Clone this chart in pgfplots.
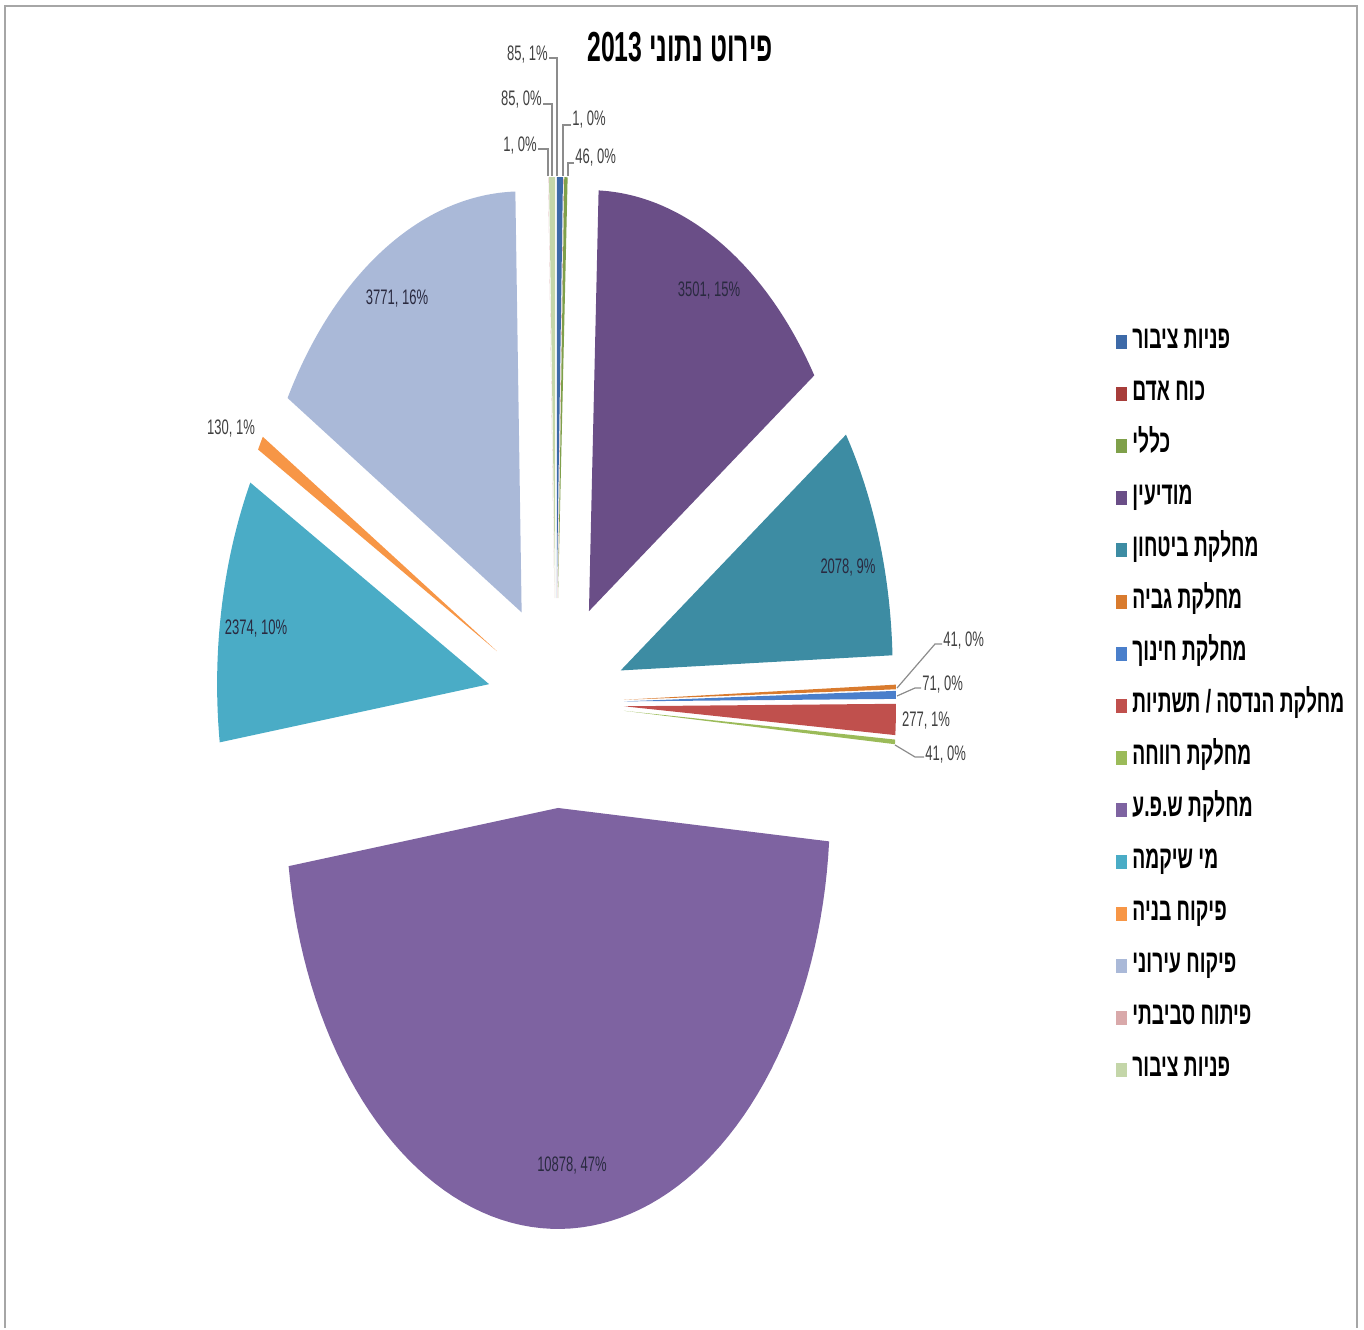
\documentclass[border=0pt]{standalone}
\usepackage{pgfplots}
\pgfplotsset{compat=1.18}
\usepackage{fontspec}
\setmainfont{Liberation Sans}
\TeXXeTstate=1
\newfontfamily\hebleg[Script=Hebrew, FakeStretch=0.6]{Liberation Sans}
\newfontfamily\hebtitle[Script=Hebrew, FakeStretch=0.59]{Liberation Sans}
\newfontfamily\lab[FakeStretch=0.62]{Liberation Sans}

\definecolor{c1}{HTML}{3D6AA8}
\definecolor{c2}{HTML}{A73D3A}
\definecolor{c3}{HTML}{7FA04A}
\definecolor{c4}{HTML}{6A4E87}
\definecolor{c5}{HTML}{3D8CA3}
\definecolor{c6}{HTML}{D97B2E}
\definecolor{c7}{HTML}{4A7FCB}
\definecolor{c8}{HTML}{C0504D}
\definecolor{c9}{HTML}{9BBB59}
\definecolor{c10}{HTML}{7E63A1}
\definecolor{c11}{HTML}{4AACC6}
\definecolor{c12}{HTML}{F79646}
\definecolor{c13}{HTML}{AAB9D8}
\definecolor{c14}{HTML}{D9A9AA}
\definecolor{c15}{HTML}{C4D6A9}
\definecolor{labin}{HTML}{2A2A40}
\definecolor{labout}{HTML}{404040}
\definecolor{lead}{HTML}{8C8C8C}
\definecolor{frame}{HTML}{A6A6A6}

\newcommand\total{23380}
\gdef\cum{0}
% #1 value, #2 colour, #3 legend text
\newcommand{\slice}[3]{%
  \edef\aS{\fpeval{round(\cum*360/\total,5)}}%
  \edef\aE{\fpeval{round((\cum+#1)*360/\total,5)}}%
  \edef\aM{\fpeval{(\aS+\aE)/2}}%
  \edef\tx{\fpeval{round(556+0.25*272*sind(\aM),4)}}%
  \edef\ty{\fpeval{round(-703+0.25*420*cosd(\aM),4)}}%
  \xdef\cum{\fpeval{\cum+#1}}%
  \edef\doit{\noexpand\addplot[fill=#2,draw=none,domain=\aS:\aE,samples=80]
    ({\tx+272*sin(x)},{\ty+421*cos(x)}) -- (axis cs:\tx,\ty) -- cycle;}%
  \doit
  \addlegendentry{\hebleg\bfseries\fontsize{16}{18}\selectfont #3}%
}

\begin{document}
\begin{tikzpicture}
\begin{axis}[
  scale only axis, width=682pt, height=664pt,
  xmin=0, xmax=1364, ymin=-1328, ymax=0,
  hide axis, clip=false,
  legend image code/.code={\fill[#1] (0pt,-3.5pt) rectangle (5.5pt,3.5pt);},
  legend cell align=left,
  legend style={at={(1116/1364,1-330/1328)}, anchor=north west,
    draw=none, fill=none, inner sep=0pt, row sep=14pt,
    nodes={inner xsep=2.5pt, inner ysep=0pt, text height=9pt, text depth=3pt}},
]
\slice{85}{c1}{\beginR פניות ציבור\endR}
\slice{1}{c2}{\beginR כוח אדם\endR}
\slice{46}{c3}{\beginR כללי\endR}
\slice{3501}{c4}{\beginR מודיעין\endR}
\slice{2078}{c5}{\beginR מחלקת ביטחון\endR}
\slice{41}{c6}{\beginR מחלקת גביה\endR}
\slice{71}{c7}{\beginR מחלקת חינוך\endR}
\slice{277}{c8}{\beginR מחלקת הנדסה / תשתיות\endR}
\slice{41}{c9}{\beginR מחלקת רווחה\endR}
\slice{10878}{c10}{\beginR מחלקת ש.פ.ע\endR}
\slice{2374}{c11}{\beginR מי שיקמה\endR}
\slice{130}{c12}{\beginR פיקוח בניה\endR}
\slice{3771}{c13}{\beginR פיקוח עירוני\endR}
\slice{1}{c14}{\beginR פיתוח סביבתי\endR}
\slice{85}{c15}{\beginR פניות ציבור\endR}

% frame
\draw[frame, line width=1.2pt] (axis cs:5,-1328) -- (axis cs:5,-6) -- (axis cs:1357,-6) -- (axis cs:1357,-1328);

% title
\node at (axis cs:680,-47) {\hebtitle\bfseries\fontsize{21}{24}\selectfont\beginR פירוט נתוני 2013\endR};

% data labels
\begin{scope}[every node/.style={font=\lab\fontsize{10.5}{12}\selectfont, inner sep=0pt}]
\node[text=labin] at (axis cs:709,-291) {3501, 15\%};
\node[text=labin] at (axis cs:848,-568) {2078, 9\%};
\node[text=labin] at (axis cs:256,-629) {2374, 10\%};
\node[text=labin] at (axis cs:397,-299) {3771, 16\%};
\node[text=labin] at (axis cs:572,-1166) {10878, 47\%};
\node[text=labout] at (axis cs:231,-429) {130, 1\%};
\node[text=labout, anchor=west] at (axis cs:943,-641) {41, 0\%};
\node[text=labout, anchor=west] at (axis cs:922,-685) {71, 0\%};
\node[text=labout] at (axis cs:926,-721) {277, 1\%};
\node[text=labout, anchor=west] at (axis cs:925,-755) {41, 0\%};
\node[text=labout, anchor=east] at (axis cs:548,-55) {85, 1\%};
\node[text=labout, anchor=east] at (axis cs:542,-100) {85, 0\%};
\node[text=labout, anchor=east] at (axis cs:537,-146) {1, 0\%};
\node[text=labout, anchor=west] at (axis cs:572,-120) {1, 0\%};
\node[text=labout, anchor=west] at (axis cs:575,-158) {46, 0\%};
\end{scope}

% leader lines
\begin{scope}[lead, line width=0.6pt]
\draw (axis cs:549,-58) -- (axis cs:557,-58) -- (axis cs:557,-176);
\draw (axis cs:543,-104) -- (axis cs:552,-104) -- (axis cs:552,-176);
\draw (axis cs:538,-149) -- (axis cs:548,-149) -- (axis cs:548,-176);
\draw (axis cs:571,-125) -- (axis cs:563,-125) -- (axis cs:563,-176);
\draw (axis cs:574,-163) -- (axis cs:568,-163) -- (axis cs:568,-176);
\draw (axis cs:897,-688) -- (axis cs:935,-644) -- (axis cs:942,-644);
\draw (axis cs:897,-696) -- (axis cs:915,-688) -- (axis cs:921,-688);
\draw (axis cs:895,-745) -- (axis cs:915,-757) -- (axis cs:924,-757);
\end{scope}
\end{axis}
\path (current axis.south west) rectangle (current axis.north east);
\end{tikzpicture}
\end{document}
